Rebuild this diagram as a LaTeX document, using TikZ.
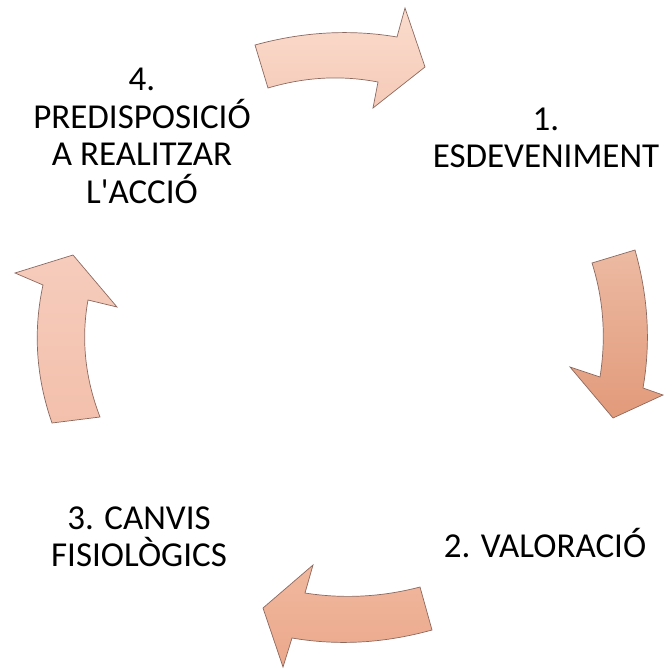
\documentclass[tikz,border=0pt]{standalone}
\usepackage{fontspec}
\setmainfont{Carlito}
\definecolor{edgec}{RGB}{140,105,95}
\definecolor{topA}{RGB}{250,220,205}
\definecolor{topB}{RGB}{246,202,184}
\definecolor{rightA}{RGB}{236,186,162}
\definecolor{rightB}{RGB}{226,154,122}
\definecolor{botA}{RGB}{240,184,158}
\definecolor{botB}{RGB}{235,168,140}
\definecolor{leftA}{RGB}{246,204,188}
\definecolor{leftB}{RGB}{243,192,172}
\tikzset{
  cyclearrow/.style={draw=edgec, line width=0.7pt, line join=miter},
  label/.style={font=\fontsize{35}{37.5}\selectfont, align=center, inner sep=0pt, text=black}
}
\begin{document}
\begin{tikzpicture}[x=1pt,y=-1pt]
\useasboundingbox (0,0) rectangle (664,669);
% top arrow
\shadedraw[cyclearrow, top color=topA, bottom color=topB]
  (255,45) .. controls (302,32) and (350,29) .. (397,37)
  -- (405,8) -- (425,67) -- (373,108) -- (378,82)
  .. controls (341,75) and (305,77) .. (268,88) -- cycle;
% right arrow
\shadedraw[cyclearrow, top color=rightA, bottom color=rightB]
  (635,250) .. controls (648,296) and (651,342) .. (643,388)
  -- (663,395) -- (613,418) -- (570,367) -- (600,377)
  .. controls (606,339) and (604,301) .. (592,263) -- cycle;
% bottom arrow
\shadedraw[cyclearrow, top color=botA, bottom color=botB]
  (432,630) .. controls (385,643) and (339,646) .. (292,638)
  -- (283,667) -- (263,608) -- (313,565) -- (305,593)
  .. controls (343,599) and (382,597) .. (420,587) -- cycle;
% left arrow
\shadedraw[cyclearrow, top color=leftA, bottom color=leftB]
  (52,423) .. controls (36,377) and (33,331) .. (43,285)
  -- (15,273) -- (73,255) -- (117,307) -- (88,300)
  .. controls (81,339) and (85,378) .. (100,417) -- cycle;
% labels
\node[label] (n1) at (546,138) {1.\\ESDEVENIMENT};
\node[label] (n2) at (545,543) {2. VALORACIÓ};
\node[label] (n3) at (139,537) {3. CANVIS\\FISIOLÒGICS};
\node[label] (n4) at (142,136) {4.\\PREDISPOSICIÓ\\A REALITZAR\\L\textquotesingle ACCIÓ};
\end{tikzpicture}
\end{document}
